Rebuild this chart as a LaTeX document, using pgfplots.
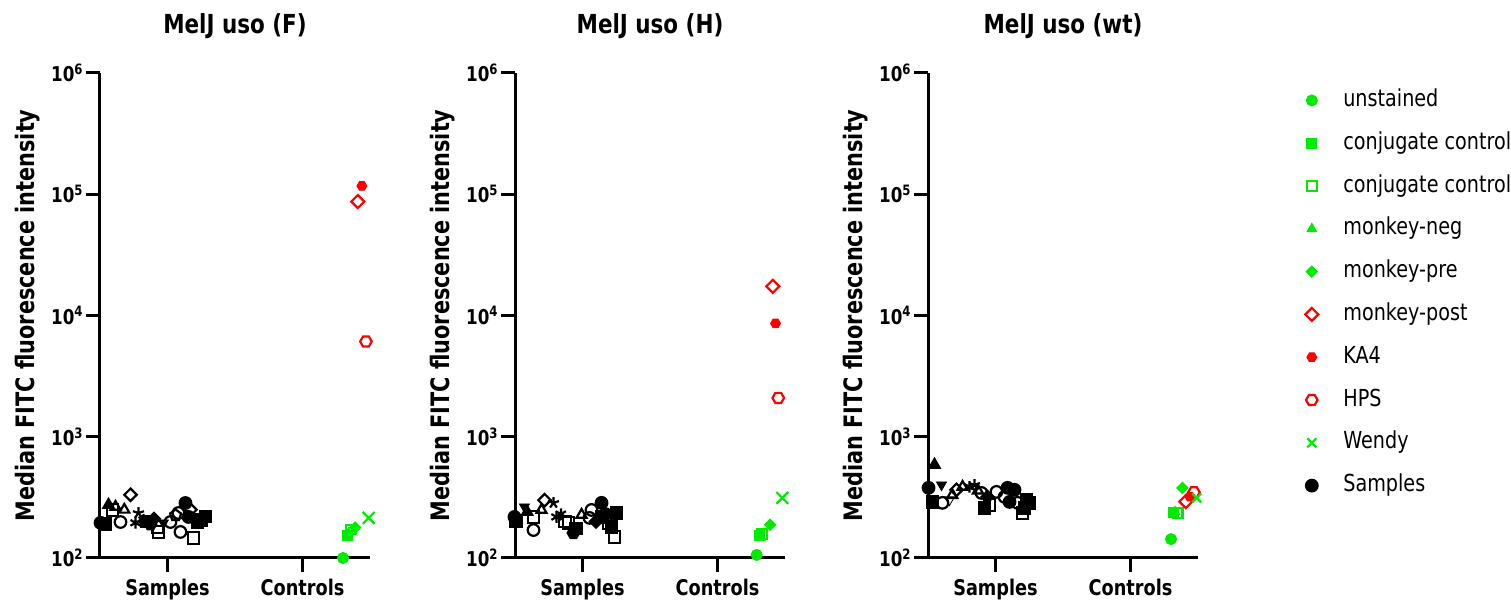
\documentclass[border=0pt]{standalone}
\usepackage{fontspec}
\setmainfont{DejaVu Sans}[FakeStretch=0.82]
\usepackage{pgfplots}
\pgfplotsset{compat=1.18}
\usetikzlibrary{plotmarks}
\definecolor{lg}{RGB}{0,235,0}
\definecolor{rr}{RGB}{255,0,0}
\pgfdeclareplotmark{hexagon}{%
 \pgfpathmoveto{\pgfqpointpolar{0}{\pgfplotmarksize}}%
 \pgfpathlineto{\pgfqpointpolar{60}{\pgfplotmarksize}}%
 \pgfpathlineto{\pgfqpointpolar{120}{\pgfplotmarksize}}%
 \pgfpathlineto{\pgfqpointpolar{180}{\pgfplotmarksize}}%
 \pgfpathlineto{\pgfqpointpolar{240}{\pgfplotmarksize}}%
 \pgfpathlineto{\pgfqpointpolar{300}{\pgfplotmarksize}}%
 \pgfpathclose\pgfusepathqstroke}
\pgfdeclareplotmark{hexagon*}{%
 \pgfpathmoveto{\pgfqpointpolar{0}{\pgfplotmarksize}}%
 \pgfpathlineto{\pgfqpointpolar{60}{\pgfplotmarksize}}%
 \pgfpathlineto{\pgfqpointpolar{120}{\pgfplotmarksize}}%
 \pgfpathlineto{\pgfqpointpolar{180}{\pgfplotmarksize}}%
 \pgfpathlineto{\pgfqpointpolar{240}{\pgfplotmarksize}}%
 \pgfpathlineto{\pgfqpointpolar{300}{\pgfplotmarksize}}%
 \pgfpathclose\pgfusepathqfillstroke}
\pgfdeclareplotmark{rdiamond}{%
 \pgfpathmoveto{\pgfqpoint{0pt}{1.3\pgfplotmarksize}}%
 \pgfpathlineto{\pgfqpoint{1.3\pgfplotmarksize}{0pt}}%
 \pgfpathlineto{\pgfqpoint{0pt}{-1.3\pgfplotmarksize}}%
 \pgfpathlineto{\pgfqpoint{-1.3\pgfplotmarksize}{0pt}}%
 \pgfpathclose\pgfusepathqstroke}
\pgfdeclareplotmark{rdiamond*}{%
 \pgfpathmoveto{\pgfqpoint{0pt}{1.3\pgfplotmarksize}}%
 \pgfpathlineto{\pgfqpoint{1.3\pgfplotmarksize}{0pt}}%
 \pgfpathlineto{\pgfqpoint{0pt}{-1.3\pgfplotmarksize}}%
 \pgfpathlineto{\pgfqpoint{-1.3\pgfplotmarksize}{0pt}}%
 \pgfpathclose\pgfusepathqfillstroke}
\pgfplotsset{
 every axis/.append style={
  scale only axis, width=135pt, height=242.5pt,
  xmin=0.5, xmax=2.5, ymin=100, ymax=1000000,
  axis lines=left, axis line style={-, line width=1.5pt},
  tick style={black, line width=1.5pt},
  major tick style={black, line width=1.5pt},
  major tick length=7pt, tick align=outside,
  xtick={1,2}, xticklabels={Samples,Controls},
  ytick={100,1000,10000,100000,1000000},
  yticklabels={10\textsuperscript{2},10\textsuperscript{3},10\textsuperscript{4},10\textsuperscript{5},10\textsuperscript{6}},
  yminorticks=false, xminorticks=false,
  clip=false,
  yticklabel style={font=\bfseries\fontsize{10.2}{12}\selectfont, inner xsep=1pt},
  xticklabel style={font=\bfseries\fontsize{10.8}{12}\selectfont},
  ylabel={Median FITC fluorescence intensity},
  ylabel style={font=\bfseries\fontsize{12.7}{14}\selectfont, at={(axis description cs:-0.267,0.5)}, anchor=center},
  title style={font=\bfseries\fontsize{13.1}{15}\selectfont, at={(axis description cs:0.5,1.072)}, anchor=center},
 },
 mysamp/.style={only marks, black, mark size=2.9pt, mark options={line width=1.1pt}},
 myunst/.style={only marks, mark=*, lg, mark size=2.8pt},
 myconjf/.style={only marks, mark=square*, lg, mark size=2.5pt},
 myconjo/.style={only marks, mark=square, lg, mark size=2.4pt, mark options={line width=1.1pt}},
 mymneg/.style={only marks, mark=triangle*, lg, mark size=2.8pt},
 mympre/.style={only marks, mark=rdiamond*, lg, mark size=2.2pt},
 mympost/.style={only marks, mark=rdiamond, rr, mark size=2.5pt, mark options={line width=1.1pt}},
 myka/.style={only marks, mark=hexagon*, rr, mark size=2.5pt},
 myhps/.style={only marks, mark=hexagon, rr, mark size=2.9pt, mark options={line width=1.1pt}},
 mywendy/.style={only marks, mark=x, lg, mark size=4.2pt, mark options={line width=1.1pt}},
}
\begin{document}
\begin{tikzpicture}
\path[use as bounding box] (0,0) rectangle (755.5pt,301.5pt);
% ---------- Panel F
\begin{semilogyaxis}[anchor=south west, at={(50pt,22.5pt)}, title={MelJ uso (F)}]
\addplot[myunst] coordinates {(2.30,100)};
\addplot[myconjf] coordinates {(2.33,155)};
\addplot[myconjo] coordinates {(2.36,172)};
\addplot[mymneg] coordinates {(2.34,160)};
\addplot[mympre] coordinates {(2.39,178)};
\addplot[mympost] coordinates {(2.41,87000)};
\addplot[myka] coordinates {(2.44,117000)};
\addplot[myhps] coordinates {(2.47,6100)};
\addplot[mywendy] coordinates {(2.49,214)};
\addplot[mysamp, mark=*] coordinates {(0.504,195) (1.133,284) (1.156,218)};
\addplot[mysamp, mark=square*] coordinates {(0.54,190) (0.85,200) (1.222,198) (1.281,220) (1.25,205)};
\addplot[mysamp, mark=triangle*] coordinates {(0.563,274)};
\addplot[mysamp, mark=square] coordinates {(0.593,249) (0.926,180) (0.933,164) (1.193,146)};
\addplot[mysamp, mark=triangle] coordinates {(0.615,264) (0.68,250)};
\addplot[mysamp, mark=o] coordinates {(0.652,198) (1.022,198) (1.081,235) (1.096,164)};
\addplot[mysamp, mark=rdiamond, mark size=2.4pt] coordinates {(0.726,332) (1.17,250)};
\addplot[mysamp, mark=asterisk] coordinates {(0.763,195) (0.822,206)};
\addplot[mysamp, mark=star] coordinates {(0.785,235)};
\addplot[mysamp, mark=hexagon*] coordinates {(0.874,190)};
\addplot[mysamp, mark=rdiamond*, mark size=2.3pt] coordinates {(0.9,210)};
\addplot[mysamp, mark=triangle*, mark options={rotate=180}] coordinates {(0.97,195)};
\addplot[mysamp, mark=pentagon] coordinates {(1.06,225)};
\end{semilogyaxis}
% ---------- Panel H
\begin{semilogyaxis}[anchor=south west, at={(257.5pt,22.5pt)}, title={MelJ uso (H)}]
\addplot[myunst] coordinates {(2.29,106)};
\addplot[myconjf] coordinates {(2.31,155)};
\addplot[myconjo] coordinates {(2.33,158)};
\addplot[mymneg] coordinates {(2.32,150)};
\addplot[mympre] coordinates {(2.39,188)};
\addplot[mympost] coordinates {(2.41,17400)};
\addplot[myka] coordinates {(2.43,8600)};
\addplot[myhps] coordinates {(2.45,2090)};
\addplot[mywendy] coordinates {(2.48,313)};
\addplot[mysamp, mark=*] coordinates {(0.496,218) (1.141,285) (1.17,230)};
\addplot[mysamp, mark=square*] coordinates {(0.51,200) (0.95,175) (1.141,218) (1.215,180) (1.252,235)};
\addplot[mysamp, mark=triangle*, mark options={rotate=180}] coordinates {(0.57,264)};
\addplot[mysamp, mark=triangle*] coordinates {(0.59,240)};
\addplot[mysamp, mark=square] coordinates {(0.637,218) (0.87,200) (0.896,195) (1.193,195) (1.237,149)};
\addplot[mysamp, mark=o] coordinates {(0.637,170) (1.052,214) (1.067,249)};
\addplot[mysamp, mark=triangle] coordinates {(0.696,249) (0.993,227)};
\addplot[mysamp, mark=rdiamond, mark size=2.4pt] coordinates {(0.719,300)};
\addplot[mysamp, mark=star] coordinates {(0.785,285)};
\addplot[mysamp, mark=asterisk] coordinates {(0.807,218) (0.84,230)};
\addplot[mysamp, mark=hexagon*] coordinates {(0.933,161)};
\addplot[mysamp, mark=rdiamond*, mark size=2.3pt] coordinates {(1.1,200)};
\end{semilogyaxis}
% ---------- Panel wt
\begin{semilogyaxis}[anchor=south west, at={(464pt,22.5pt)}, title={MelJ uso (wt)},
  legend entries={unstained, conjugate control, conjugate control, monkey-neg, monkey-pre, monkey-post, KA4, HPS, Wendy, Samples},
  legend cell align=left,
  legend style={at={(axis description cs:1.396,0.969)}, anchor=north west, draw=none, fill=none,
    font=\fontsize{11.7}{13}\selectfont, row sep=9.4pt, inner sep=0pt,
    nodes={inner ysep=0pt, inner xsep=12.5pt, text height=9pt, text depth=3pt}}]
\addplot[myunst] coordinates {(2.30,143)};
\addplot[myconjf] coordinates {(2.32,238)};
\addplot[myconjo] coordinates {(2.35,235)};
\addplot[mymneg] coordinates {(2.33,240)};
\addplot[mympre] coordinates {(2.385,378)};
\addplot[mympost] coordinates {(2.41,292)};
\addplot[myka] coordinates {(2.44,320)};
\addplot[myhps] coordinates {(2.47,348)};
\addplot[mywendy, mark size=3.2pt] coordinates {(2.49,313)};
\addplot[mysamp, mark=*] coordinates {(0.504,379) (1.089,379) (1.104,290) (1.141,365)};
\addplot[mysamp, forget plot, mark=square*] coordinates {(0.533,290) (0.919,259) (1.215,259) (1.252,285) (1.23,300)};
\addplot[mysamp, forget plot, mark=triangle*] coordinates {(0.548,587)};
\addplot[mysamp, forget plot, mark=triangle*, mark options={rotate=180}] coordinates {(0.6,401)};
\addplot[mysamp, forget plot, mark=o] coordinates {(0.607,285) (0.896,344) (1.007,351) (1.067,319) (1.163,285)};
\addplot[mysamp, forget plot, mark=triangle, mark options={rotate=180}] coordinates {(0.659,302)};
\addplot[mysamp, forget plot, mark=triangle] coordinates {(0.68,330) (0.756,386) (0.87,360)};
\addplot[mysamp, forget plot, mark=rdiamond, mark size=2.4pt] coordinates {(0.711,365)};
\addplot[mysamp, forget plot, mark=asterisk] coordinates {(0.807,386)};
\addplot[mysamp, forget plot, mark=star] coordinates {(0.844,401)};
\addplot[mysamp, forget plot, mark=rdiamond*, mark size=2.3pt] coordinates {(0.941,319)};
\addplot[mysamp, forget plot, mark=square] coordinates {(0.956,274) (1.2,235)};
\end{semilogyaxis}
\end{tikzpicture}
\end{document}
